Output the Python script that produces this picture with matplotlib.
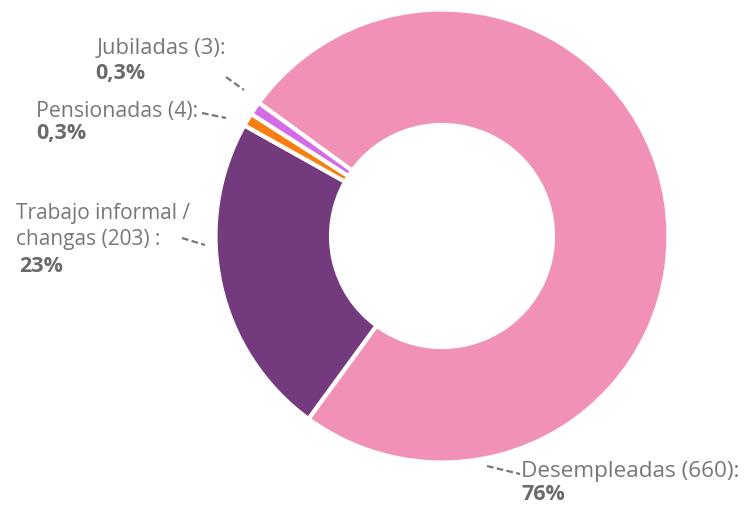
import matplotlib
matplotlib.use("Agg")
import matplotlib.pyplot as plt

categories = ["Desempleadas", "Trabajo informal / changas", "Pensionadas", "Jubiladas"]
values = [660, 203, 4, 3]
pct_labels = ["76%", "23%", "0,3%", "0,3%"]
colors = ["#F191B7", "#743A7E", "#F77F11", "#D46CE8"]

W, H = 745, 508
fig = plt.figure(figsize=(W / 100, H / 100), dpi=100)
ax = fig.add_axes([0, 0, 1, 1])
ax.set_xlim(0, W)
ax.set_ylim(0, H)
ax.set_aspect("equal")
ax.axis("off")

def Y(y):
    return H - y

# the chart shows tiny slices with a minimum visible size
total = sum(values)
min_share = 0.0095
shown = [max(v, min_share * total) for v in values]

ax.pie(shown, colors=colors, startangle=144, counterclock=False,
       center=(442, Y(236)), radius=226.5,
       wedgeprops=dict(width=226.5 - 111, edgecolor="white", linewidth=3))
ax.set_xlim(0, W)
ax.set_ylim(0, H)

fam = ["Open Sans", "DejaVu Sans"]
gray = "#777777"
dgray = "#6a6a6a"

def lbl(x, y, s, fs, bold=False):
    ax.text(x, Y(y), s, fontsize=fs, color=dgray if bold else gray, family=fam,
            fontweight="bold" if bold else "normal", ha="left", va="center")

def lead(x1, y1, x2, y2):
    ax.plot([x1, x2], [Y(y1), Y(y2)], color=gray, lw=1.6, ls=(0, (3, 1.5)),
            solid_capstyle="butt")

# Jubiladas
lbl(97, 48, "Jubiladas (3):", 15.8)
lbl(95, 74, pct_labels[3], 15.5, bold=True)
lead(226, 77, 244, 90)
# Pensionadas
lbl(36, 111, "Pensionadas (4):", 15.3)
lbl(36, 133, pct_labels[2], 15.5, bold=True)
lead(202, 113, 226, 118)
# Trabajo informal
lbl(16, 214, "Trabajo informal /", 15)
lbl(16, 239, "changas (203) :", 15)
lbl(19, 266, pct_labels[1], 15.5, bold=True)
lead(182, 238, 205, 245)
# Desempleadas
lbl(521, 471, "Desempleadas (660):", 16.2)
lbl(521, 494, pct_labels[0], 15.5, bold=True)
lead(487, 466, 520, 474)

fig.savefig("out.png", dpi=100)
